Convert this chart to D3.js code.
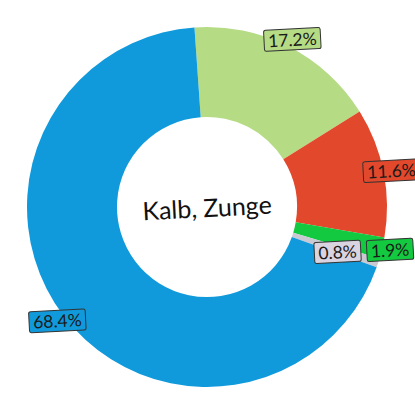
<!DOCTYPE html>
<html><head><meta charset="utf-8">
<script src="https://cdn.jsdelivr.net/npm/d3@7"></script>
<style>html,body{margin:0;padding:0;background:#fff;}</style>
</head><body>
<svg id="c" width="415" height="415"></svg>
<script>
const categories = ["A", "B", "C", "D", "E"];
const values = [17.2, 11.6, 1.9, 0.8, 68.4];
const labels = ["17.2%", "11.6%", "1.9%", "0.8%", "68.4%"];
const colors = ["#B6DB85", "#E2482B", "#13C93F", "#C9C9D3", "#109ADC"];
const labelFills = ["#B6DB85", "#E2482B", "#13C93F", "#DAD3E0", "#109ADC"];
const title = "Kalb, Zunge";

const svg = d3.select("#c");
const cx = 207, cy = 207, rOuter = 180, rInner = 90;
const rot = -4 * Math.PI / 180;
const g = svg.append("g").attr("transform", `translate(${cx},${cy})`);

const pie = d3.pie().sort(null).value(d => d).startAngle(rot).endAngle(rot + 2 * Math.PI);
const arcs = pie(values);
const arc = d3.arc().innerRadius(rInner).outerRadius(rOuter);

g.selectAll("path.slice").data(arcs).enter().append("path")
  .attr("class", "slice")
  .attr("d", arc)
  .attr("fill", (d, i) => colors[i]);

g.append("text").attr("x", 0).attr("y", 0)
  .attr("text-anchor", "middle").attr("dominant-baseline", "central")
  .attr("transform", "rotate(-3)")
  .style("font-family", "Lato, 'Open Sans', sans-serif")
  .style("font-size", "25px").attr("fill", "#111")
  .text(title);

const labelArc = d3.arc().innerRadius(188).outerRadius(188);
const placed = [];
arcs.forEach((d, i) => {
  let [x, y] = labelArc.centroid(d);
  const lg = g.append("g");
  const t = lg.append("text").text(labels[i])
    .attr("text-anchor", "middle").attr("dominant-baseline", "central")
    .style("font-family", "Lato, 'Open Sans', sans-serif")
    .style("font-size", "17.5px").attr("fill", "#1a1a1a");
  const bb = t.node().getBBox();
  const w = bb.width + 8, h = 21;
  // simple collision avoidance: place left of a previously placed overlapping label
  placed.forEach(p => {
    if (Math.abs(p.y - y) < h && Math.abs(p.x - x) < (p.w + w) / 2 + 4) {
      x = p.x - (p.w + w) / 2 - 6;
      y = p.y + 2;
    }
  });
  placed.push({x, y, w});
  lg.insert("rect", "text")
    .attr("x", -w / 2).attr("y", -h / 2).attr("width", w).attr("height", h)
    .attr("rx", 2).attr("fill", labelFills[i])
    .attr("stroke", "#333").attr("stroke-width", 1);
  lg.attr("transform", `translate(${x},${y}) rotate(-3)`);
});
</script>
</body></html>
